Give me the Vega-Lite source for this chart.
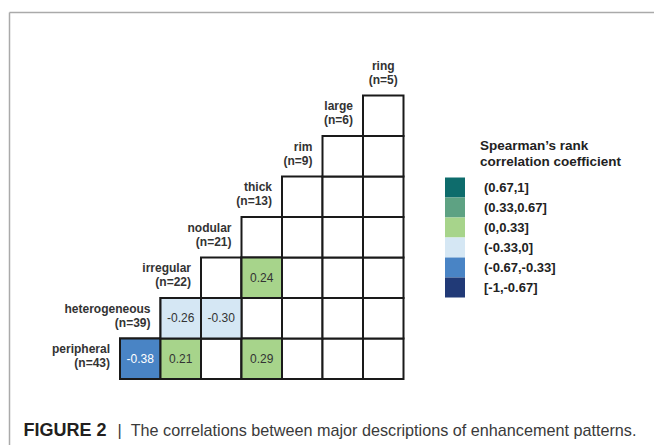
{
  "$schema": "https://vega.github.io/schema/vega-lite/v6.json",
  "width": 645,
  "height": 433,
  "autosize": "none",
  "padding": {"left": 9, "top": 12, "right": 0, "bottom": 0},
  "background": "white",
  "config": {
    "view": {"stroke": null},
    "font": "Liberation Sans",
    "locale": {"number": {"decimal": ".", "thousands": ",", "grouping": [3], "currency": ["$", ""], "minus": "-"}}
  },
  "datasets": {
    "cells": [
      {"row": "peripheral", "col": "heterogeneous", "value": -0.38, "bin": "(-0.67,-0.33]"},
      {"row": "peripheral", "col": "irregular", "value": 0.21, "bin": "(0,0.33]"},
      {"row": "peripheral", "col": "nodular", "value": null, "bin": null},
      {"row": "peripheral", "col": "thick", "value": 0.29, "bin": "(0,0.33]"},
      {"row": "peripheral", "col": "rim", "value": null, "bin": null},
      {"row": "peripheral", "col": "large", "value": null, "bin": null},
      {"row": "peripheral", "col": "ring", "value": null, "bin": null},
      {"row": "heterogeneous", "col": "irregular", "value": -0.26, "bin": "(-0.33,0]"},
      {"row": "heterogeneous", "col": "nodular", "value": -0.30, "bin": "(-0.33,0]"},
      {"row": "heterogeneous", "col": "thick", "value": null, "bin": null},
      {"row": "heterogeneous", "col": "rim", "value": null, "bin": null},
      {"row": "heterogeneous", "col": "large", "value": null, "bin": null},
      {"row": "heterogeneous", "col": "ring", "value": null, "bin": null},
      {"row": "irregular", "col": "nodular", "value": null, "bin": null},
      {"row": "irregular", "col": "thick", "value": 0.24, "bin": "(0,0.33]"},
      {"row": "irregular", "col": "rim", "value": null, "bin": null},
      {"row": "irregular", "col": "large", "value": null, "bin": null},
      {"row": "irregular", "col": "ring", "value": null, "bin": null},
      {"row": "nodular", "col": "thick", "value": null, "bin": null},
      {"row": "nodular", "col": "rim", "value": null, "bin": null},
      {"row": "nodular", "col": "large", "value": null, "bin": null},
      {"row": "nodular", "col": "ring", "value": null, "bin": null},
      {"row": "thick", "col": "rim", "value": null, "bin": null},
      {"row": "thick", "col": "large", "value": null, "bin": null},
      {"row": "thick", "col": "ring", "value": null, "bin": null},
      {"row": "rim", "col": "large", "value": null, "bin": null},
      {"row": "rim", "col": "ring", "value": null, "bin": null},
      {"row": "large", "col": "ring", "value": null, "bin": null}
    ],
    "labels": [
      {"row": "peripheral", "col": "peripheral", "label": "peripheral\n(n=43)"},
      {"row": "heterogeneous", "col": "heterogeneous", "label": "heterogeneous\n(n=39)"},
      {"row": "irregular", "col": "irregular", "label": "irregular\n(n=22)"},
      {"row": "nodular", "col": "nodular", "label": "nodular\n(n=21)"},
      {"row": "thick", "col": "thick", "label": "thick\n(n=13)"},
      {"row": "rim", "col": "rim", "label": "rim\n(n=9)"},
      {"row": "large", "col": "large", "label": "large\n(n=6)"},
      {"row": "ring", "col": "ring", "label": "ring\n(n=5)"}
    ]
  },
  "encoding": {
    "x": {
      "field": "col", "type": "nominal",
      "scale": {"type": "band", "domain": ["_a", "peripheral", "heterogeneous", "irregular", "nodular", "thick", "rim", "large", "ring", "_b", "_c", "_d", "_e", "_f", "_g"], "paddingInner": 0, "paddingOuter": 0.463, "align": 0.8},
      "axis": {
        "orient": "top", "domain": true, "domainColor": "#aaaaaa", "domainWidth": 1.5,
        "ticks": false, "labels": false, "grid": false,
        "title": "|\u00a0\u00a0The correlations between major descriptions of enhancement patterns.",
        "titleX": 108, "titleY": 423, "titleAlign": "left", "titleBaseline": "alphabetic",
        "titleFontSize": 16.2, "titleFontWeight": "normal", "titleColor": "#3a3a3a", "titleFont": "Liberation Sans"
      }
    },
    "y": {
      "field": "row", "type": "nominal",
      "scale": {"type": "band", "domain": ["_t", "ring", "large", "rim", "thick", "nodular", "irregular", "heterogeneous", "peripheral", "_u"], "paddingInner": 0, "paddingOuter": 0.3457, "align": 0.0893},
      "axis": {
        "orient": "left", "domain": true, "domainColor": "#aaaaaa", "domainWidth": 1.5,
        "ticks": false, "labels": false, "grid": false,
        "title": "FIGURE 2", "titleAngle": 0, "titleX": 14, "titleY": 423,
        "titleAlign": "left", "titleBaseline": "alphabetic",
        "titleFontSize": 18, "titleFontWeight": "bold", "titleColor": "#231f20", "titleFont": "Liberation Sans"
      }
    }
  },
  "layer": [
    {
      "data": {"name": "cells"},
      "mark": {"type": "rect", "fill": "white", "stroke": "#1a1a1a", "strokeWidth": 2}
    },
    {
      "data": {"name": "cells"},
      "transform": [{"filter": "isValid(datum.value)"}],
      "mark": {"type": "rect", "stroke": "#1a1a1a", "strokeWidth": 2, "opacity": 1},
      "encoding": {
        "color": {
          "field": "bin", "type": "nominal",
          "scale": {
            "domain": ["(0.67,1]", "(0.33,0.67]", "(0,0.33]", "(-0.33,0]", "(-0.67,-0.33]", "[-1,-0.67]"],
            "range": ["#0e6c6c", "#5ea283", "#a7d48b", "#d5e7f4", "#4984c5", "#213a77"]
          },
          "legend": {
            "orient": "none", "legendX": 436, "legendY": 127,
            "title": ["Spearman’s rank", "correlation coefficient"],
            "titleFontSize": 13.5, "titleFontWeight": "bold", "titleColor": "#222222",
            "titleLineHeight": 16, "titlePadding": 9, "titleAlign": "left", "titleFont": "Liberation Sans",
            "symbolType": "square", "symbolSize": 400, "symbolStrokeWidth": 0, "symbolOpacity": 1,
            "rowPadding": 0, "padding": 0,
            "labelFontSize": 13, "labelFontWeight": "bold", "labelColor": "#222222", "labelOffset": 19, "labelFont": "Liberation Sans",
            "encoding": {"title": {"dx": {"value": 35}}}
          }
        }
      }
    },
    {
      "data": {"name": "cells"},
      "transform": [{"filter": "isValid(datum.value)"}],
      "mark": {"type": "text", "fontSize": 12, "font": "Liberation Sans", "baseline": "middle"},
      "encoding": {
        "text": {"field": "value", "type": "quantitative", "format": ".2f"},
        "color": {"condition": {"test": "datum.value < -0.33", "value": "#ffffff"}, "value": "#333333"}
      }
    },
    {
      "data": {"name": "labels"},
      "transform": [{"filter": "datum.col !== 'ring'"}],
      "mark": {"type": "text", "align": "right", "baseline": "middle", "dx": -10, "dy": -9.5, "fontSize": 12, "fontWeight": "bold", "lineBreak": "\n", "lineHeight": 14, "color": "#333333", "font": "Liberation Sans"},
      "encoding": {
        "x": {
          "field": "col", "type": "nominal", "bandPosition": 1,
          "scale": {"type": "band", "domain": ["_a", "peripheral", "heterogeneous", "irregular", "nodular", "thick", "rim", "large", "ring", "_b", "_c", "_d", "_e", "_f", "_g"], "paddingInner": 0, "paddingOuter": 0.463, "align": 0.8}
        },
        "text": {"field": "label", "type": "nominal"}
      }
    },
    {
      "data": {"name": "labels"},
      "transform": [{"filter": "datum.col === 'ring'"}],
      "mark": {"type": "text", "align": "center", "baseline": "middle", "dy": -9.5, "fontSize": 12, "fontWeight": "bold", "lineBreak": "\n", "lineHeight": 14, "color": "#333333", "font": "Liberation Sans"},
      "encoding": {
        "text": {"field": "label", "type": "nominal"}
      }
    }
  ]
}
